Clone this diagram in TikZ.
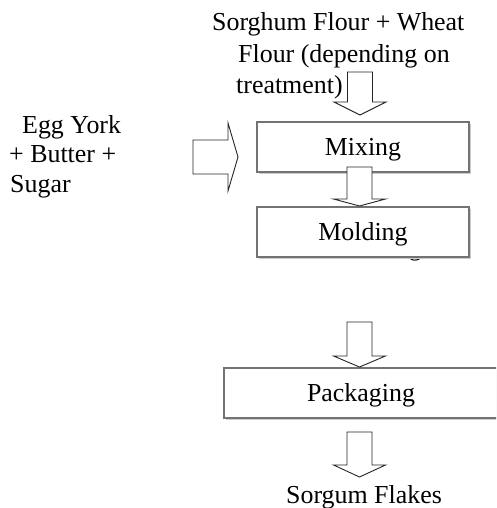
\documentclass[tikz,border=0pt]{standalone}
\usepackage{fontspec}
\setmainfont{Liberation Serif}
\usetikzlibrary{shadows}
\newcommand\blkdown[4]{\draw[blockarrow] (#1-12.5,#2) -- (#1+12.5,#2) -- (#1+12.5,#3) -- (#1+26,#3) -- (#1,#4) -- (#1-26,#3) -- (#1-12.5,#3) -- cycle;}
\begin{document}
\begin{tikzpicture}[x=1pt,y=-1pt,
  txt/.style={inner sep=0pt, font=\fontsize{25.9}{31}\selectfont},
  stepbox/.style={draw=black!55, line width=1.3pt, fill=white, inner sep=0pt,
    text height=17pt, text depth=0pt, minimum height=50pt,
    font=\fontsize{25.9}{31}\selectfont,
    drop shadow={shadow xshift=2pt, shadow yshift=-2pt, fill=black!20, opacity=1}},
  blockarrow/.style={draw=black!85, line width=0.9pt, fill=white, line join=miter}]
\useasboundingbox (0,0) rectangle (496,508);
\clip (0,0) rectangle (496,508);
\fill[white] (0,0) rectangle (496,508);
% input texts
\node[txt, anchor=base west] (t1) at (212,31) {Sorghum Flour + Wheat};
\node[txt, anchor=base west] (t2) at (238,63) {Flour (depending on};
\node[txt, anchor=base west] (t3) at (236,94) {treatment)};
\node[txt, anchor=base west] (e1) at (22,133) {Egg York};
\node[txt, anchor=base west] (e2) at (9,162) {+ Butter +};
\node[txt, anchor=base west] (e3) at (10,192) {Sugar};
% boxes
\node[stepbox, minimum width=212pt] (mix) at (363,147) {Mixing};
\node[txt, anchor=base east] (hid) at (422,255) {g};
\node[stepbox, minimum width=212pt] (mold) at (363,232) {Molding};
\node[stepbox, minimum width=320pt] (pack) at (384,393) {\hspace*{-46pt}Packaging};
\node[txt, anchor=base west] (out) at (286,503) {Sorgum Flakes};
% block arrows
\blkdown{360}{72}{102}{115}
\blkdown{359.5}{167}{199}{206}
\blkdown{359.5}{322}{356}{367}
\blkdown{359.5}{432}{465}{477}
\draw[blockarrow] (193,140) -- (228,140) -- (228,123) -- (238,157) -- (228,191) -- (228,174) -- (193,174) -- cycle;
\end{tikzpicture}
\end{document}
